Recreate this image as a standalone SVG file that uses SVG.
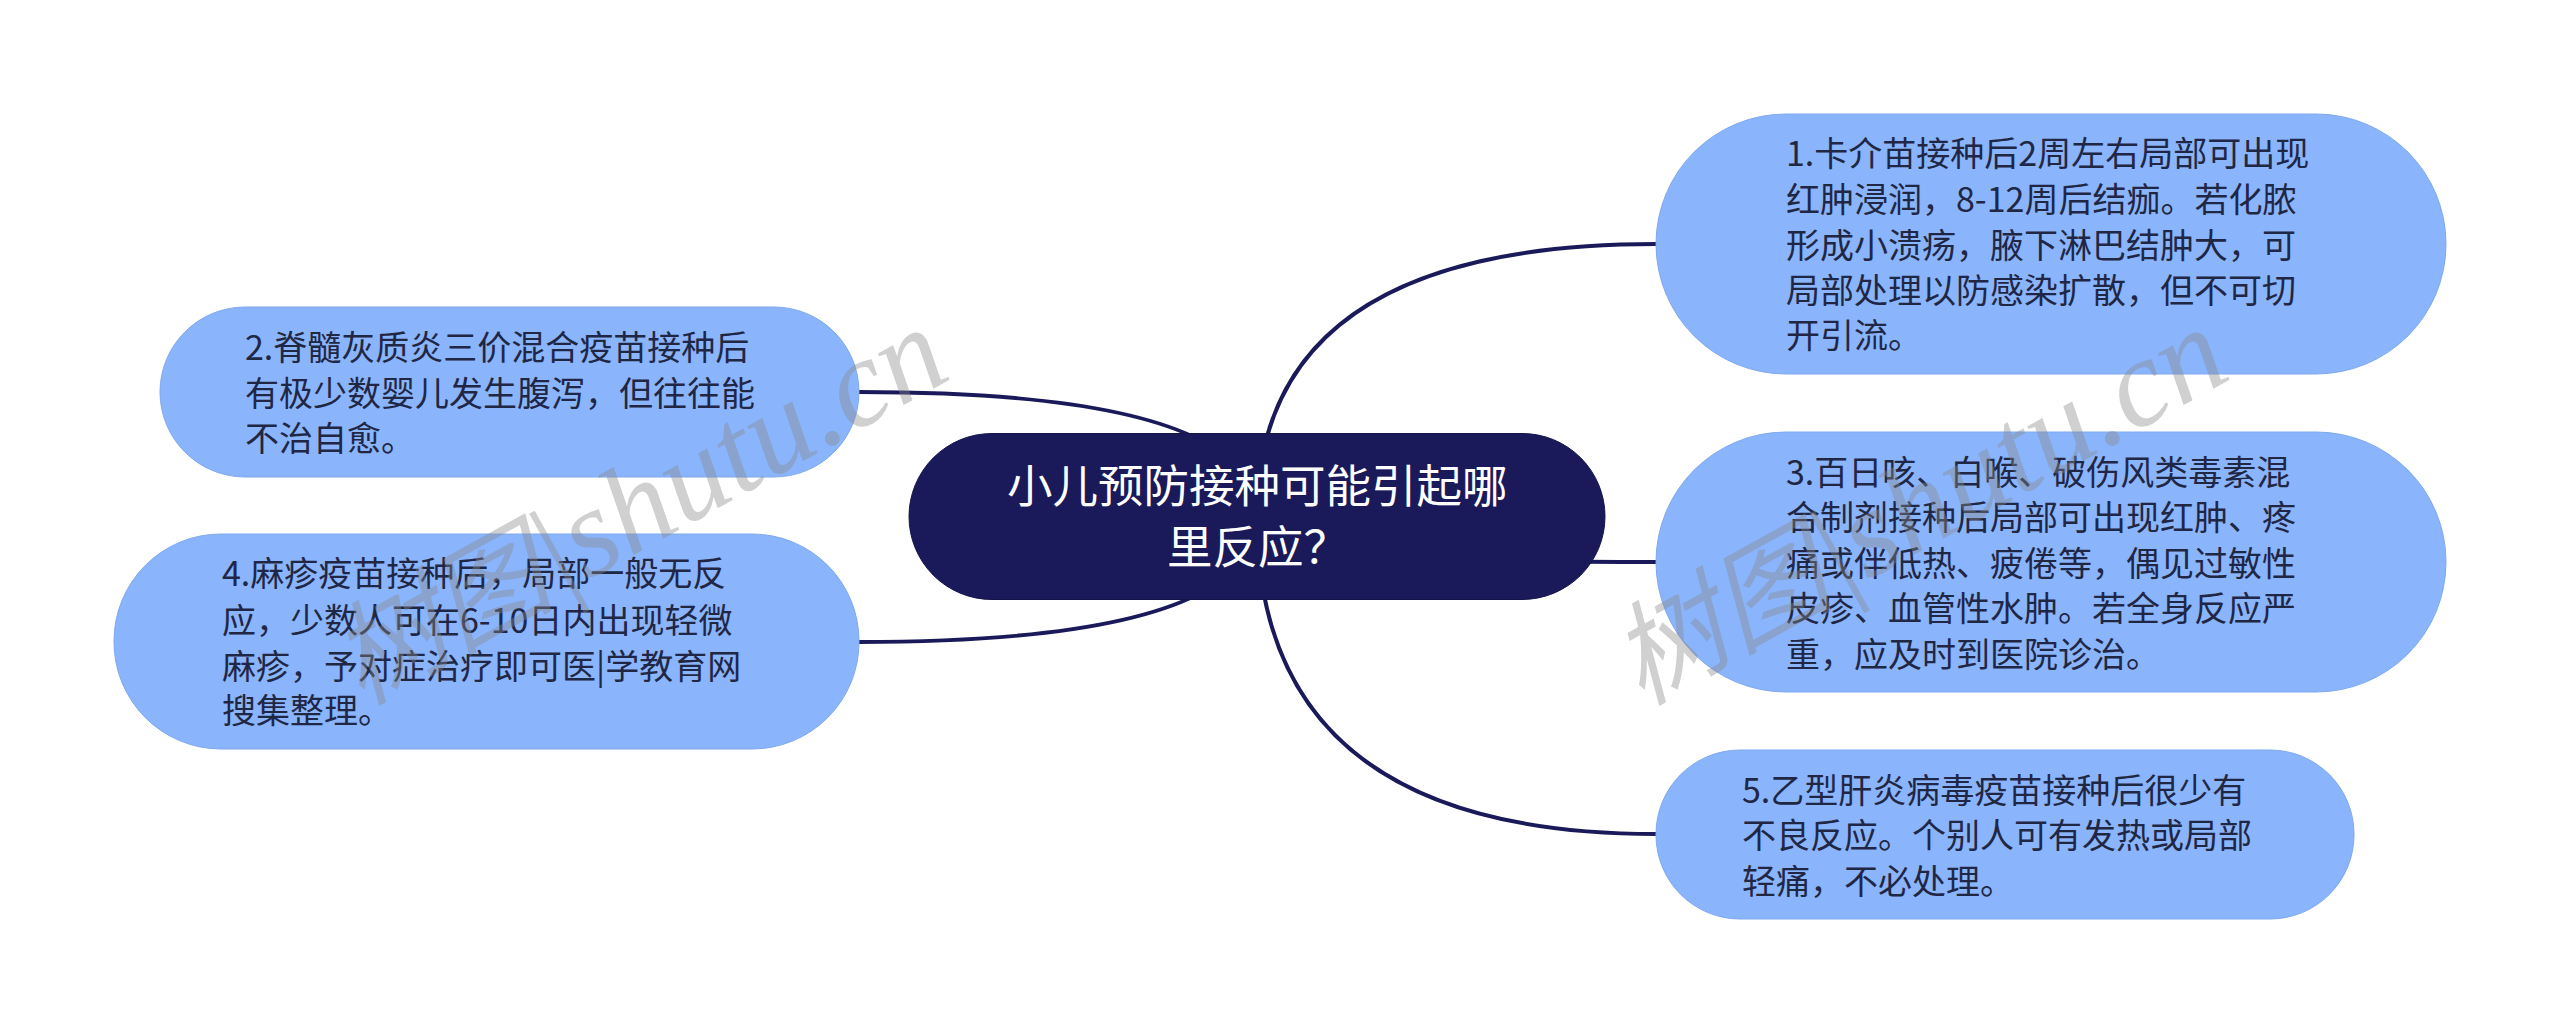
<svg xmlns="http://www.w3.org/2000/svg" width="2560" height="1034" viewBox="0 0 2560 1034">
<style>
.n{fill:#8ab4fc;stroke:#7fa8ee;stroke-width:1}
.c{fill:#1a1a5a;stroke:#14144c;stroke-width:1}
.t{font-family:"Noto Sans CJK SC","Noto Sans",sans-serif;font-size:34px;fill:#1f2744}
.ct{font-family:"Noto Sans CJK SC","Noto Sans",sans-serif;font-size:45.500px;fill:#fff}
.l{fill:none;stroke:#1a1a5a;stroke-width:4}
.w{font-family:"Liberation Serif","Noto Sans CJK SC",serif;font-style:italic;font-size:125px;fill:#8a8a8a;fill-opacity:.4}
.wc{font-size:112px}
</style>
<rect width="2560" height="1034" fill="#fff"/>
<g id="connectors">
<path class="l" d="M1257 516Q1257 244 1656 244"/>
<path class="l" d="M1257 516Q1257 392 859 392"/>
<path class="l" d="M1257 516Q1257 642 859 642"/>
<path class="l" d="M1257 516Q1257 562 1656 562"/>
<path class="l" d="M1257 516Q1257 834 1656 834"/>
</g>
<g id="center"><rect class="c" x="909" y="433.500" width="696" height="166" rx="83" ry="83"/>
<text class="ct" x="1007" y="503">小儿预防接种可能引起哪</text><text class="ct" x="1167" y="564">里反应&#65311;</text></g>
<g id="node1"><rect class="n" x="1656" y="114" width="790" height="260" rx="130" ry="130"/>
<text class="t"><tspan x="1786" y="166">1.卡介苗接种后2周左右局部可出现</tspan><tspan x="1786" y="212">红肿浸润&#65292;8-12周后结痂。若化脓</tspan><tspan x="1786" y="258">形成小溃疡&#65292;腋下淋巴结肿大&#65292;可</tspan><tspan x="1786" y="303">局部处理以防感染扩散&#65292;但不可切</tspan><tspan x="1786" y="348">开引流。</tspan></text></g>
<g id="node2"><rect class="n" x="160" y="307" width="699" height="170" rx="85" ry="85"/>
<text class="t"><tspan x="245" y="360">2.脊髓灰质炎三价混合疫苗接种后</tspan><tspan x="245" y="406">有极少数婴儿发生腹泻&#65292;但往往能</tspan><tspan x="245" y="451">不治自愈。</tspan></text></g>
<g id="node3"><rect class="n" x="1656" y="432" width="790" height="260" rx="130" ry="130"/>
<text class="t"><tspan x="1786" y="485">3.百日咳、白喉、破伤风类毒素混</tspan><tspan x="1786" y="530">合制剂接种后局部可出现红肿、疼</tspan><tspan x="1786" y="576">痛或伴低热、疲倦等&#65292;偶见过敏性</tspan><tspan x="1786" y="621">皮疹、血管性水肿。若全身反应严</tspan><tspan x="1786" y="667">重&#65292;应及时到医院诊治。</tspan></text></g>
<g id="node4"><rect class="n" x="114" y="534" width="745" height="215" rx="107" ry="107"/>
<text class="t"><tspan x="222" y="586">4.麻疹疫苗接种后&#65292;局部一般无反</tspan><tspan x="222" y="633">应&#65292;少数人可在6-10日内出现轻微</tspan><tspan x="222" y="679">麻疹&#65292;予对症治疗即可医|学教育网</tspan><tspan x="222" y="723">搜集整理。</tspan></text></g>
<g id="node5"><rect class="n" x="1656" y="750" width="698" height="169" rx="84" ry="84"/>
<text class="t"><tspan x="1742" y="803">5.乙型肝炎病毒疫苗接种后很少有</tspan><tspan x="1742" y="848">不良反应。个别人可有发热或局部</tspan><tspan x="1742" y="894">轻痛&#65292;不必处理。</tspan></text></g>
<g id="watermark">
<text class="w" transform="translate(361 706) rotate(-29)"><tspan class="wc">树图</tspan>|shutu.cn</text>
<text class="w" transform="translate(1641 706) rotate(-29)"><tspan class="wc">树图</tspan>|shutu.cn</text>
</g>
</svg>
